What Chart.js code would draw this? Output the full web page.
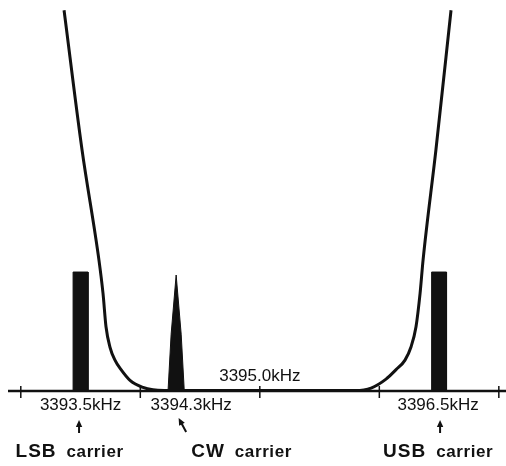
<!DOCTYPE html>
<html>
<head>
<meta charset="utf-8">
<script src="https://cdn.jsdelivr.net/npm/chart.js@4.4.1/dist/chart.umd.min.js"></script>
<style>
  html, body { margin: 0; padding: 0; background: #fff; }
  #wrap { width: 506px; height: 466px; position: relative; }
</style>
</head>
<body>
<div id="wrap"><canvas id="chart"></canvas></div>
<script>
'use strict';

// frequency axis, kHz
var tickFreqs = [3393.0, 3394.0, 3395.0, 3396.0, 3397.0];
var centerFreq = 3395.0;
var axisStart = 3392.893;

// carriers
var carrierNames = ['LSB', 'CW', 'USB'];
var carrierFreqs = [3393.5, 3394.3, 3396.5];
var carrierLevels = [1.0, 0.975, 1.0];
var barWidth = 0.125;
var cwOffsets = [-0.068, -0.042, 0, 0.042, 0.068];
var cwShape = [0, 0.49, 1, 0.49, 0];

// filter response (relative level)
var filterFreqs = [
  3393.362, 3393.512, 3393.654, 3393.688, 3393.713, 3393.746, 3393.788,
  3393.839, 3393.914, 3394.023, 3394.106, 3394.200,
  3395.800, 3395.931, 3396.056, 3396.140, 3396.215, 3396.265, 3396.307,
  3396.341, 3396.366, 3396.474, 3396.600
];
var filterLevels = [
  3.20, 2.03, 1.10, 0.82, 0.54, 0.37, 0.26,
  0.18, 0.09, 0.03, 0.01, 0.005,
  0.005, 0.025, 0.10, 0.18, 0.26, 0.37, 0.54,
  0.82, 1.10, 2.03, 3.20
];

var INK = '#111';
var FONT = '"Liberation Sans", Arial, sans-serif';

function pts(xs, ys) {
  return xs.map(function(x, i) { return { x: x, y: ys[i] }; });
}

function barPoints(f, level) {
  var a = f - barWidth / 2, b = f + barWidth / 2;
  return [{ x: a, y: 0 }, { x: a, y: level }, { x: b, y: level }, { x: b, y: 0 }];
}

function cwPoints(f, level) {
  return cwOffsets.map(function(d, i) { return { x: f + d, y: level * cwShape[i] }; });
}

var datasets = [];

datasets.push({
  label: 'filter',
  data: pts(filterFreqs, filterLevels),
  showLine: true,
  borderColor: INK,
  borderWidth: 3,
  pointRadius: 0,
  cubicInterpolationMode: 'monotone',
  fill: false,
});

datasets.push({
  label: 'axis',
  data: [{ x: axisStart, y: 0 }, { x: 3397.2, y: 0 }],
  showLine: true,
  borderColor: INK,
  borderWidth: 2.5,
  pointRadius: 0,
  fill: false,
});

carrierNames.forEach(function(name, i) {
  var shape = name === 'CW' ? cwPoints(carrierFreqs[i], carrierLevels[i])
                            : barPoints(carrierFreqs[i], carrierLevels[i]);
  datasets.push({
    label: name,
    data: shape,
    showLine: true,
    borderColor: INK,
    borderWidth: 1,
    backgroundColor: INK,
    pointRadius: 0,
    tension: 0,
    fill: 'origin',
  });
});

// text/arrow placement offsets (px) relative to each carrier
var labelStyle = {
  LSB: { freqDx: 0, arrowTail: [-1.5, 433], arrowTip: [-1.5, 420], wordDx: -65 },
  CW:  { freqDx: 15, arrowTail: [10, 432], arrowTip: [2.5, 418], wordDx: 15 },
  USB: { freqDx: -1, arrowTail: [1, 433], arrowTip: [1, 420], wordDx: -56 },
};

function drawArrow(ctx, x1, y1, x2, y2) {
  var ang = Math.atan2(y2 - y1, x2 - x1);
  var hl = 7, hw = 3.2;
  ctx.beginPath();
  ctx.moveTo(x1, y1);
  ctx.lineTo(x2 - Math.cos(ang) * hl * 0.6, y2 - Math.sin(ang) * hl * 0.6);
  ctx.lineWidth = 2;
  ctx.stroke();
  ctx.beginPath();
  ctx.moveTo(x2, y2);
  ctx.lineTo(x2 - Math.cos(ang) * hl + Math.sin(ang) * hw, y2 - Math.sin(ang) * hl - Math.cos(ang) * hw);
  ctx.lineTo(x2 - Math.cos(ang) * hl - Math.sin(ang) * hw, y2 - Math.sin(ang) * hl + Math.cos(ang) * hw);
  ctx.closePath();
  ctx.fill();
}

var annotations = {
  id: 'annotations',
  afterDatasetsDraw: function(chart) {
    var ctx = chart.ctx;
    var xs = chart.scales.x, ys = chart.scales.y;
    var y0 = ys.getPixelForValue(0);
    ctx.save();
    ctx.strokeStyle = INK;
    ctx.fillStyle = INK;

    // axis ticks
    ctx.lineWidth = 1.5;
    tickFreqs.forEach(function(f) {
      var x = xs.getPixelForValue(f);
      ctx.beginPath();
      ctx.moveTo(x, y0 - 5);
      ctx.lineTo(x, y0 + 7);
      ctx.stroke();
    });

    // centre frequency label above axis
    ctx.font = '17px ' + FONT;
    ctx.textAlign = 'center';
    ctx.textBaseline = 'alphabetic';
    ctx.fillText(centerFreq.toFixed(1) + 'kHz', xs.getPixelForValue(centerFreq), y0 - 10);

    carrierNames.forEach(function(name, i) {
      var st = labelStyle[name];
      var cx = xs.getPixelForValue(carrierFreqs[i]);

      ctx.font = '17px ' + FONT;
      ctx.textAlign = 'center';
      ctx.letterSpacing = '0px';
      ctx.fillText(carrierFreqs[i].toFixed(1) + 'kHz', cx + st.freqDx, y0 + 19);

      drawArrow(ctx, cx + st.arrowTail[0], st.arrowTail[1], cx + st.arrowTip[0], st.arrowTip[1]);

      var wx = cx + st.wordDx;
      ctx.textAlign = 'left';
      ctx.font = 'bold 19px ' + FONT;
      ctx.letterSpacing = '1px';
      ctx.fillText(name, wx, 457);
      var w = ctx.measureText(name).width;
      ctx.font = 'bold 17px ' + FONT;
      ctx.letterSpacing = '0.6px';
      ctx.fillText('carrier', wx + w + 10, 457);
      ctx.letterSpacing = '0px';
    });

    ctx.restore();
  }
};

new Chart(document.getElementById('chart'), {
  type: 'scatter',
  data: { datasets: datasets },
  options: {
    responsive: true,
    maintainAspectRatio: false,
    animation: false,
    layout: { padding: 0 },
    plugins: {
      legend: { display: false },
      tooltip: { enabled: false },
    },
    scales: {
      x: { type: 'linear', min: 3392.826, max: 3397.06, display: false },
      y: { type: 'linear', min: -0.630, max: 3.286, display: false },
    },
  },
  plugins: [annotations],
});
</script>
</body>
</html>
